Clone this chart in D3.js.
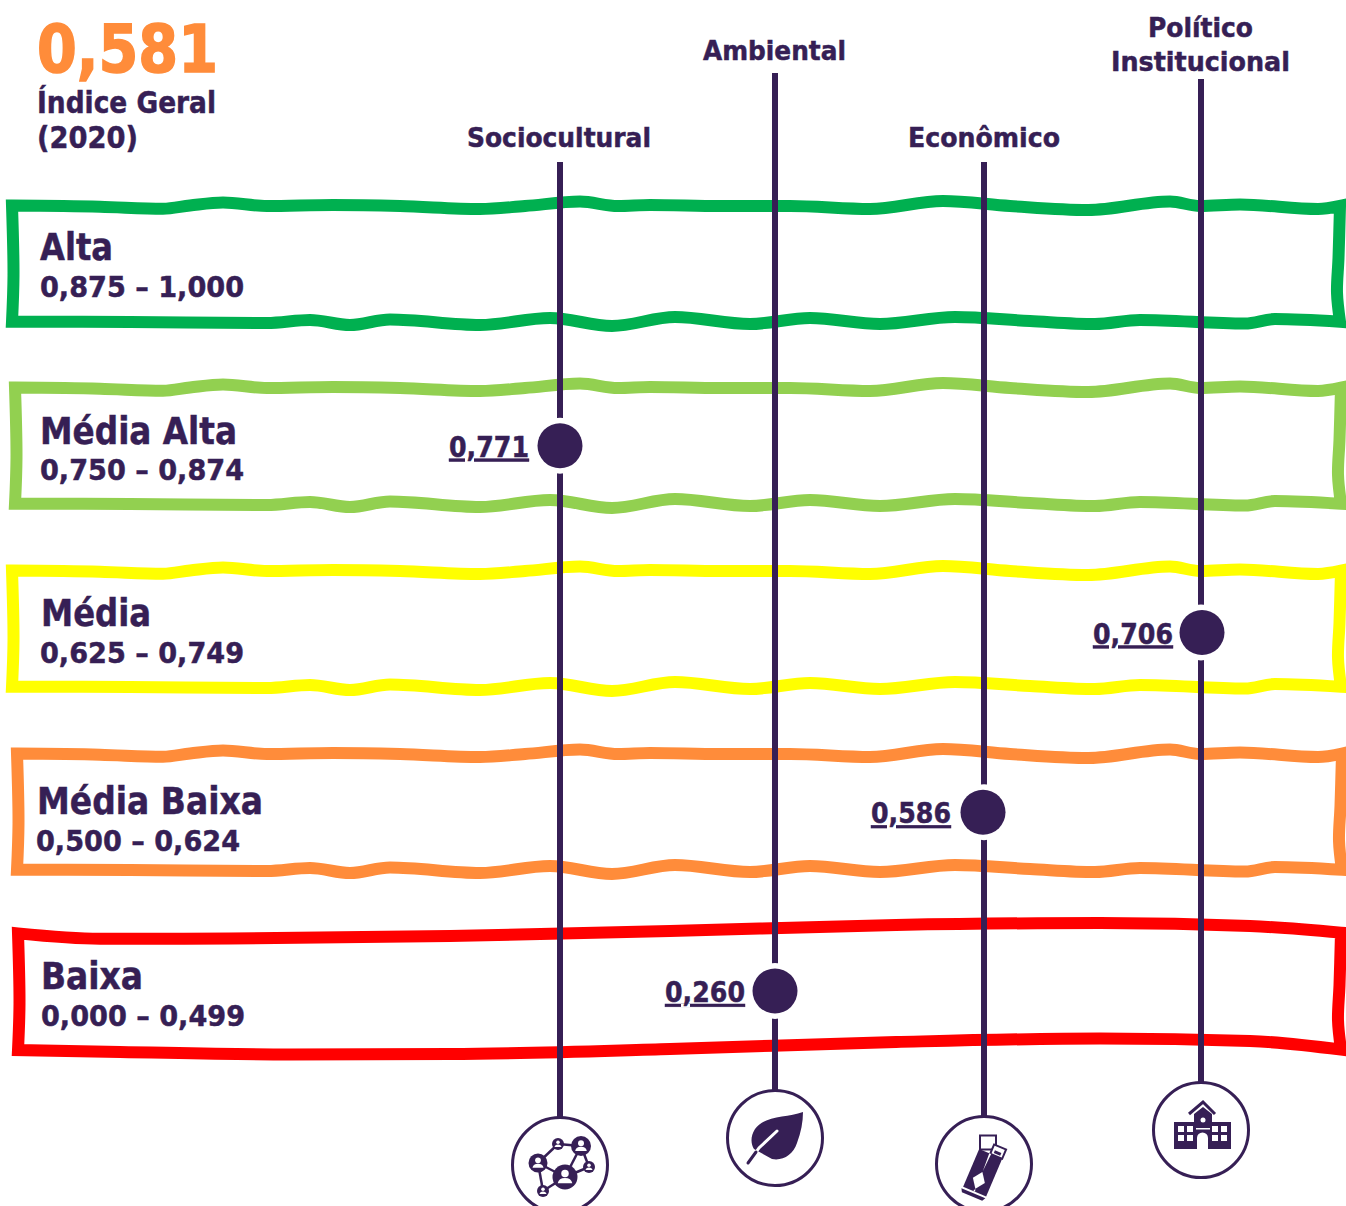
<!DOCTYPE html>
<html>
<head>
<meta charset="utf-8">
<script src="https://cdn.jsdelivr.net/npm/d3@7"></script>
<style>
html, body { margin: 0; padding: 0; background: #fff; }
svg { display: block; }
text { font-family: "DejaVu Sans", sans-serif; font-weight: bold; }
</style>
</head>
<body>
<div id="chart"></div>
<script>
// data
const general_value = "0,581"
const general_label = ["Índice Geral", "(2020)"]
const class_names = ["Alta", "Média Alta", "Média", "Média Baixa", "Baixa"]
const class_ranges = ["0,875 – 1,000", "0,750 – 0,874", "0,625 – 0,749", "0,500 – 0,624", "0,000 – 0,499"]
const class_colors = ["#00b050", "#92d050", "#ffff00", "#ff8c3a", "#ff0000"]
const class_breaks = [0.5, 0.625, 0.75, 0.875]
const dimensions = ["Sociocultural", "Ambiental", "Econômico", "Político Institucional"]
const dimension_values = [0.771, 0.26, 0.586, 0.706]

// layout
const dim_x = [560, 775, 984, 1201]
const dim_line_top = [162, 73, 162, 79]
const dim_icon_y = [1165, 1138, 1164, 1130]
const dim_label = [
    [{t: "Sociocultural", x: 467, y: 147, w: 184}],
    [{t: "Ambiental", x: 703, y: 60, w: 143}],
    [{t: "Econômico", x: 908, y: 147, w: 152}],
    [{t: "Político", x: 1148, y: 37, w: 105}, {t: "Institucional", x: 1111, y: 71, w: 179}]
]
const value_width = 80
const value_dx = [0, 1, -2, 3]
const dot_dx = [0, 0, -1, 1]
const band_dy = [0, 182, 365, 548, 0]
const band_left = [12, 15, 12, 17, 18]
const band_right = [1340, 1341, 1341, 1342, 1341]
const label_x = [40, 40, 41, 37, 41]
const label_w = [73, 197, 110, 226, 102]
const range_x = [40, 40, 40, 36, 41]
const label_base = [260, 444, 626, 814, 989]
const range_base = [297, 480, 663, 851, 1026]

// hand drawn outline of the bands, [x, y]
const wave_top = [[8, 205.5], [100, 206.7], [163, 208.8], [190, 205.5], [223, 202.5], [267, 206], [333, 205], [400, 206],
    [480, 209], [525, 206], [580, 201.6], [618, 206], [650, 205], [720, 206], [790, 206], [870, 209],
    [943, 201], [1010, 206], [1088, 210], [1170, 201.5], [1200, 206], [1240, 204.5], [1318, 209], [1346, 205]]
const wave_bottom = [[8, 321.7], [130, 322], [267, 323], [310, 320], [350, 325], [390, 319.5], [480, 325], [550, 318],
    [612, 326], [675, 317], [750, 324], [810, 318], [880, 324], [955, 317], [1030, 321], [1095, 324],
    [1140, 320], [1245, 323.6], [1275, 319], [1346, 322]]
const red_top = [[12, 933], [100, 938.8], [230, 938.5], [450, 936], [670, 931], [896, 925], [1100, 923], [1250, 926], [1346, 933]]
const red_bottom = [[12, 1050], [120, 1052], [290, 1054.5], [450, 1054], [670, 1049], [896, 1042], [1100, 1038.5], [1250, 1041], [1346, 1050]]

const dark = "#361f55"
const width = 1346, height = 1206
const icon_draw = [draw_network, draw_leaf, draw_bar, draw_school]

const svg = d3.select("#chart").append("svg")
    .attr("width", width)
    .attr("height", height)

const x = d3.scaleOrdinal().domain(dimensions).range(dim_x)
const y = d3.scalePoint().domain(class_names).range([263, 990])
const to_class = d3.scaleThreshold().domain(class_breaks).range(class_names.slice().reverse())
// dots do not sit exactly in the middle of the band
const dot_nudge = d3.scaleOrdinal().domain(class_names).range([0, 1, 6, 4, 1])

const wave = d3.line().curve(d3.curveMonotoneX)
const side = d3.line().curve(d3.curveCatmullRom)

function trim(pts, left, right) {
    const inner = pts.filter(p => p[0] > left && p[0] < right)
    const at = (px, a, b) => a[1] + (b[1] - a[1]) * (px - a[0]) / (b[0] - a[0])
    return [[left, at(left, pts[0], pts[1])]].concat(inner, [[right, at(right, pts[pts.length - 2], pts[pts.length - 1])]])
}

function outline(top, bottom, left, right) {
    const t = trim(top, left, right)
    const b = trim(bottom, left, right).reverse()
    const r0 = t[t.length - 1], r1 = b[0]
    const l0 = b[b.length - 1], l1 = t[0]
    const r = [r0, [right - 1.5, r0[1] + (r1[1] - r0[1]) * 0.45], [right - 3, r0[1] + (r1[1] - r0[1]) * 0.75], r1]
    const l = [l0, [left + 1.5, l0[1] + (l1[1] - l0[1]) * 0.4], l1]
    return wave(t) + side(r).replace("M", "L") + wave(b).replace("M", "L") + side(l).replace("M", "L") + "Z"
}

function add_text(g, t, tx, ty, w, size, color) {
    return g.append("text")
        .attr("x", tx)
        .attr("y", ty)
        .attr("font-size", size)
        .attr("fill", color || dark)
        .attr("stroke", color || dark)
        .attr("stroke-width", size > 50 ? 1.6 : 0.5)
        .attr("textLength", w)
        .attr("lengthAdjust", "spacingAndGlyphs")
        .text(t)
}

// bands
const bands = svg.append("g")
class_names.forEach(function (c, i) {
    const top = i === 4 ? red_top : wave_top.map(p => [p[0], p[1] + band_dy[i]])
    const bottom = i === 4 ? red_bottom : wave_bottom.map(p => [p[0], p[1] + band_dy[i]])
    bands.append("path")
        .attr("d", outline(top, bottom, band_left[i], band_right[i]))
        .attr("fill", "none")
        .attr("stroke", class_colors[i])
        .attr("stroke-width", 12)
        .attr("stroke-linejoin", "miter")
    add_text(bands, c, label_x[i], label_base[i], label_w[i], 37)
    add_text(bands, class_ranges[i], range_x[i], range_base[i], 204, 29)
})

// header
add_text(svg, general_value, 37, 71.5, 181, 66, "#ff8c3a")
add_text(svg, general_label[0], 37, 113, 179, 29.5)
add_text(svg, general_label[1], 37, 148, 101, 29.5)

// dimension lines, dots and labels
dimensions.forEach(function (d, i) {
    const g = svg.append("g")
    const cx = x(d)
    const cls = to_class(dimension_values[i])
    const cy = y(cls) + dot_nudge(cls)
    const v = d3.format(".3f")(dimension_values[i]).replace(".", ",")

    g.append("line")
        .attr("x1", cx).attr("x2", cx)
        .attr("y1", dim_line_top[i]).attr("y2", dim_icon_y[i] - 47)
        .attr("stroke", dark)
        .attr("stroke-width", 6)
    g.append("circle")
        .attr("cx", cx).attr("cy", cy)
        .attr("r", 28)
        .attr("fill", "#fff")
    g.append("circle")
        .attr("cx", cx + dot_dx[i]).attr("cy", cy)
        .attr("r", 22.5)
        .attr("fill", dark)
    add_text(g, v, cx - 111 + value_dx[i], cy + 11, value_width, 28)
        .attr("text-decoration", "underline")
    dim_label[i].forEach(l => add_text(g, l.t, l.x, l.y, l.w, 26.5))

    const icon = g.append("g").attr("transform", "translate(" + cx + "," + dim_icon_y[i] + ")")
    icon.append("circle")
        .attr("r", 47.5)
        .attr("fill", "#fff")
        .attr("stroke", dark)
        .attr("stroke-width", 3)
    icon_draw[i](icon)
})

function person(g, px, py, r) {
    g.append("circle").attr("cx", px).attr("cy", py).attr("r", r).attr("fill", dark)
    g.append("circle").attr("cx", px).attr("cy", py - r * 0.28).attr("r", r * 0.3).attr("fill", "#fff")
    g.append("path")
        .attr("d", "M" + (px - r * 0.58) + "," + (py + r * 0.5) + "Q" + (px - r * 0.5) + "," + (py + r * 0.08) + " " + px + "," + (py + r * 0.08)
            + "Q" + (px + r * 0.5) + "," + (py + r * 0.08) + " " + (px + r * 0.58) + "," + (py + r * 0.5) + "Z")
        .attr("fill", "#fff")
}

function draw_network(g) {
    const nodes = [[21, -19, 10], [-22, -2, 9.5], [5, 12, 12.5], [-2, -21, 6], [29, 2, 6], [-17, 26, 6]]
    const links = [[0, 3], [3, 1], [1, 2], [2, 0], [0, 4], [4, 2], [1, 5], [5, 2]]
    links.forEach(l => g.append("line")
        .attr("x1", nodes[l[0]][0]).attr("y1", nodes[l[0]][1])
        .attr("x2", nodes[l[1]][0]).attr("y2", nodes[l[1]][1])
        .attr("stroke", dark).attr("stroke-width", 2.5))
    nodes.forEach(n => person(g, n[0], n[1], n[2]))
}

function draw_leaf(g) {
    g.append("path")
        .attr("d", "M28,-26 C12,-20 -10,-23 -20,-9 C-25,-1 -24,6 -21,11 L-3,21 C8,23 18,17 22,5 C26,-6 28,-16 28,-26Z")
        .attr("fill", dark)
    g.append("path")
        .attr("d", "M2,-7 L-16,10 L-21,17")
        .attr("fill", "none").attr("stroke", "#fff").attr("stroke-width", 3).attr("stroke-linecap", "round")
    g.append("path")
        .attr("d", "M-19,14 L-27,25")
        .attr("fill", "none").attr("stroke", dark).attr("stroke-width", 3).attr("stroke-linecap", "round")
}

function draw_bar(g) {
    // foil behind the bar
    g.append("rect").attr("x", -4).attr("y", -28.5).attr("width", 16).attr("height", 14)
        .attr("fill", "#fff").attr("stroke", dark).attr("stroke-width", 2)
    const b = g.append("g").attr("transform", "translate(-2,9) rotate(23)")
    b.append("rect").attr("x", 0).attr("y", -31).attr("width", 13).attr("height", 10)
        .attr("fill", "#fff").attr("stroke", dark).attr("stroke-width", 2)
    b.append("path").attr("d", "M3,-26 L10,-26 L10,-23 L3,-23Z").attr("fill", dark)
    // body
    b.append("path").attr("d", "M-12,-21 L13,-21 L13,20 L-12,20Z").attr("fill", dark)
    b.append("path").attr("d", "M0,-1 L6.5,8 L0,17 L-6.5,8Z").attr("fill", "#fff")
    b.append("path").attr("d", "M-1,-21 L0,-2 L1,-21Z M-1,20 L0,17 L1,20Z").attr("fill", "#fff")
    b.append("path").attr("d", "M-13,22 L13,22 L11,25.5 L-11,25.5Z").attr("fill", dark)
}

function draw_school(g) {
    g.append("path")
        .attr("d", "M-27,-8 L-7,-8 L-7,-16 L2,-23 L11,-16 L11,-8 L30,-8 L30,19 L7,19 L7,8 A5.5,5.5 0 0 0 -4,8 L-4,19 L-27,19Z")
        .attr("fill", dark)
    g.append("path")
        .attr("d", "M-12,-16 L2,-28 L14,-16")
        .attr("fill", "none").attr("stroke", dark).attr("stroke-width", 3)
    g.append("circle").attr("cx", 2).attr("cy", -10).attr("r", 2.5).attr("fill", "#fff")
    const cols = [-23, -14, 11, 20]
    const rows = [-4, 5]
    cols.forEach(c => rows.forEach(r => g.append("rect")
        .attr("x", c).attr("y", r).attr("width", 6).attr("height", 6).attr("fill", "#fff")))
    g.append("rect").attr("x", -5).attr("y", -2).attr("width", 14).attr("height", 1.5).attr("fill", "#fff")
}
</script>
</body>
</html>
